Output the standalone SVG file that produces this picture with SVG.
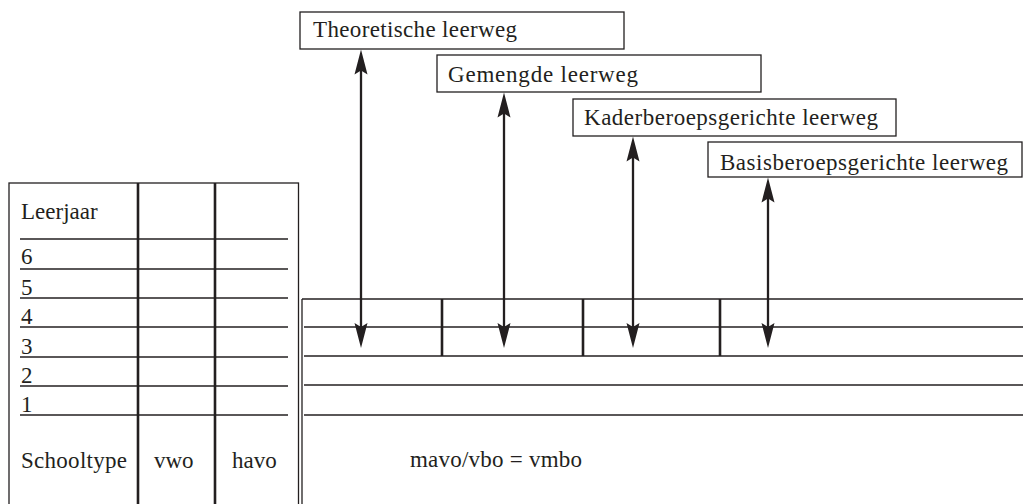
<svg xmlns="http://www.w3.org/2000/svg" width="1023" height="504" viewBox="0 0 1023 504" font-family="'Liberation Serif', 'Times New Roman', Times, serif">
<style>
  text { font-size: 23px; fill: #231f20; }
  .thin { stroke: #231f20; stroke-width: 1.3; fill: none; }
  .thick { stroke: #231f20; stroke-width: 2.6; fill: none; }
  .box { fill: #fff; stroke: #231f20; stroke-width: 1.3; }
  .arrow { stroke: #231f20; stroke-width: 2.3; fill: none; marker-start: url(#head); marker-end: url(#head); }
</style>
<defs>
  <marker id="head" viewBox="-26 -7 27 14" refX="-10" refY="0" markerWidth="27" markerHeight="14" markerUnits="userSpaceOnUse" orient="auto-start-reverse" overflow="visible">
    <path d="M0,0 L-25,-6.5 L-21,0 L-25,6.5 Z" fill="#231f20"/>
  </marker>
</defs>
<rect width="1023" height="504" fill="#fff"/>

<g id="table">
  <rect x="9" y="183" width="289.5" height="330" class="thin"/>
  <line x1="138" y1="183" x2="138" y2="504" class="thick"/>
  <line x1="215" y1="183" x2="215" y2="504" class="thick"/>
  <line x1="20" y1="239" x2="288" y2="239" class="thin"/>
  <line x1="20" y1="269" x2="288" y2="269" class="thin"/>
  <line x1="20" y1="298" x2="288" y2="298" class="thin"/>
  <line x1="20" y1="327" x2="288" y2="327" class="thin"/>
  <line x1="20" y1="357" x2="288" y2="357" class="thin"/>
  <line x1="20" y1="386" x2="288" y2="386" class="thin"/>
  <line x1="20" y1="415" x2="288" y2="415" class="thin"/>
  <text x="21" y="219">Leerjaar</text>
  <text x="21" y="264">6</text>
  <text x="21" y="295">5</text>
  <text x="21" y="324">4</text>
  <text x="21" y="354">3</text>
  <text x="21" y="383">2</text>
  <text x="21" y="412">1</text>
  <text x="21" y="468" textLength="106">Schooltype</text>
  <text x="154" y="468">vwo</text>
  <text x="232" y="468">havo</text>
</g>

<g id="vmbo-panel">
  <line x1="302" y1="299" x2="302" y2="504" class="thin"/>
  <line x1="302" y1="299" x2="1023" y2="299" class="thin"/>
  <line x1="304" y1="327" x2="1023" y2="327" class="thin"/>
  <line x1="304" y1="356" x2="1023" y2="356" class="thin"/>
  <line x1="304" y1="385" x2="1023" y2="385" class="thin"/>
  <line x1="304" y1="415" x2="1023" y2="415" class="thin"/>
  <line x1="442" y1="299" x2="442" y2="356" class="thick"/>
  <line x1="583" y1="299" x2="583" y2="356" class="thick"/>
  <line x1="720" y1="299" x2="720" y2="356" class="thick"/>
  <text x="410" y="467" textLength="172">mavo/vbo = vmbo</text>
</g>

<g id="theoretische">
  <rect x="300" y="12" width="324" height="37" class="box"/>
  <text x="313" y="37" textLength="204">Theoretische leerweg</text>
</g>
<g id="gemengde">
  <rect x="437" y="55" width="324" height="37" class="box"/>
  <text x="448" y="82" textLength="190">Gemengde leerweg</text>
</g>
<g id="kader">
  <rect x="573" y="99" width="323" height="37" class="box"/>
  <text x="584" y="125" textLength="294">Kaderberoepsgerichte leerweg</text>
</g>
<g id="basis">
  <rect x="708" y="142" width="314" height="35" class="box"/>
  <text x="720" y="170" textLength="288">Basisberoepsgerichte leerweg</text>
</g>

<g id="connectors">
  <line x1="361" y1="59.5" x2="361" y2="338" class="arrow"/>
  <line x1="504" y1="102.5" x2="504" y2="338" class="arrow"/>
  <line x1="633" y1="146.5" x2="633" y2="338" class="arrow"/>
  <line x1="768" y1="187.5" x2="768" y2="338" class="arrow"/>
</g>
</svg>
